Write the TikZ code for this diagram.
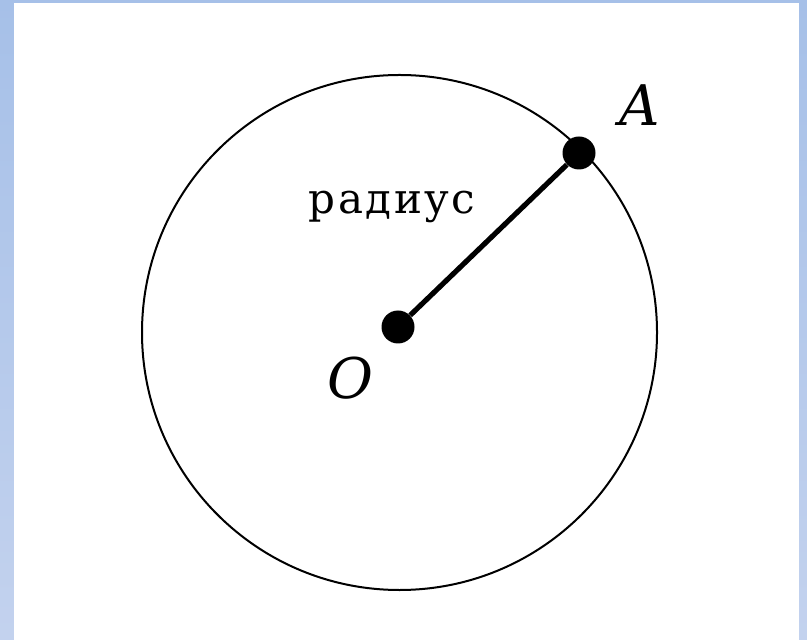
\documentclass[tikz,border=0pt]{standalone}
\usepackage{fontspec}
\setmainfont{DejaVu Serif}
\newfontfamily\spacedfont[LetterSpace=6]{DejaVu Serif}
\usetikzlibrary{positioning, calc}
\usepackage{xcolor}
\definecolor{frametop}{HTML}{A6C0E8}
\definecolor{framebot}{HTML}{C3D2EE}

\begin{document}
\begin{tikzpicture}[x=0.5pt, y=-0.5pt,
  dot/.style={circle, fill=black, inner sep=0pt, minimum size=16.5pt},
  lbl/.style={font=\fontsize{28}{32}\selectfont\itshape, inner sep=0pt},
  word/.style={font=\fontsize{21}{25}\spacedfont, inner sep=0pt}]
  % frame and sheet
  \shade[top color=frametop, bottom color=framebot] (0,0) rectangle (807,640);
  \fill[white] (14,3) rectangle (799,640);
  \useasboundingbox (0,0) rectangle (807,640);

  \coordinate (c) at (399.5,332.5);
  \draw[line width=1pt] (c) circle[radius=257.5];

  \node[dot] (O) at (398,327) {};
  \node[dot] (A) at (579,153) {};
  \draw[line width=2.6pt] (O) -- (A);

  \node[lbl] (Alab) at (640,105) {A};
  \node[lbl] (Olab) at (350,378) {O};
  \node[word] (rad) at (392,207) {радиус};
\end{tikzpicture}
\end{document}
